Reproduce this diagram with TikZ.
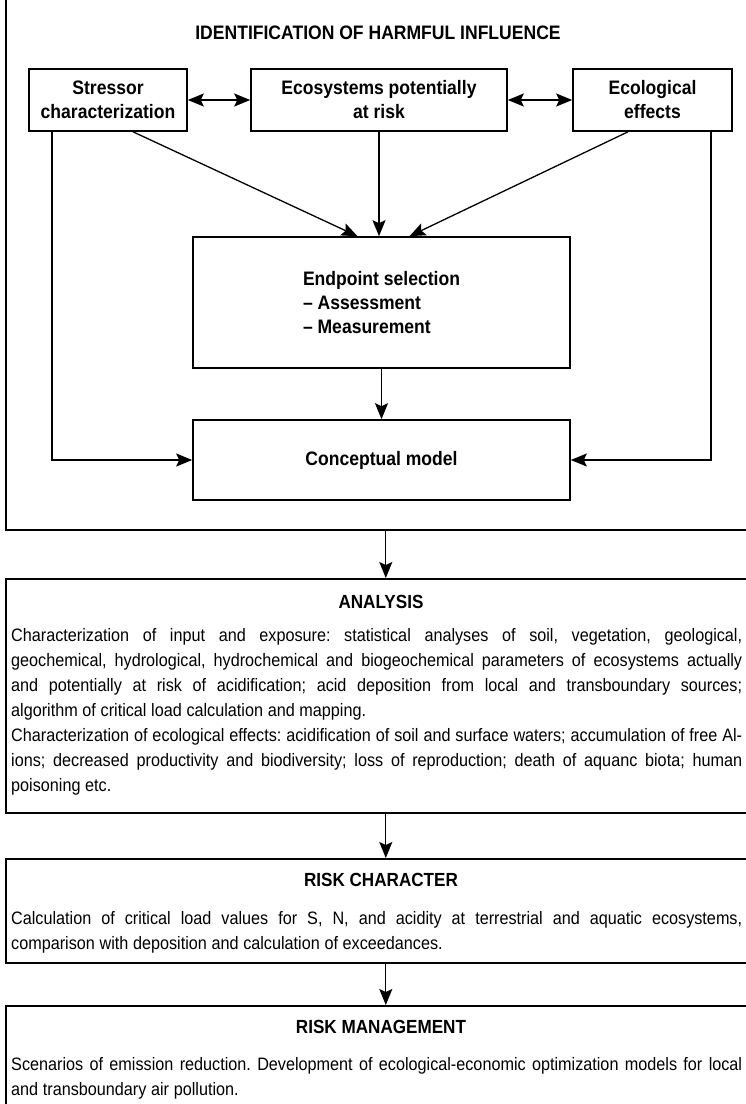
\documentclass[tikz,border=0pt]{standalone}
\usepackage{fontspec}
\setmainfont{Liberation Sans}[FakeStretch=0.9]
\usetikzlibrary{arrows.meta,positioning}

\newcommand\bodysetup{\frenchspacing\spaceskip=0.26em plus 0.8em minus 0.16em\relax\hyphenpenalty=10000\relax}

\tikzset{
  flowbox/.style={draw, line width=1.6pt, align=center, inner sep=0pt,
    font=\fontsize{19.5}{24}\selectfont\bfseries},
  panel/.style={draw, line width=1.6pt, anchor=north west, inner sep=0pt},
  headtxt/.style={inner sep=0pt, font=\fontsize{19}{22}\selectfont\bfseries},
  bodytxt/.style={anchor=north west, inner sep=0pt, text width=731pt, align=justify,
    font=\fontsize{18}{25}\selectfont\bodysetup},
  link/.style={line width=1.3pt, -{Stealth[length=16pt,width=13pt,inset=3pt]}},
  duplink/.style={line width=1.3pt,
    {Stealth[length=16pt,width=13pt,inset=3pt]}-{Stealth[length=16pt,width=13pt,inset=3pt]}},
}

\begin{document}
\begin{tikzpicture}[x=1pt,y=-1pt]
  \clip (0,0) rectangle (746,1104);

  % identification of harmful influence
  \node[panel, minimum width=760pt, minimum height=532pt] (identify) at (5,-3) {};
  \node[headtxt, font=\fontsize{19.5}{22}\selectfont\bfseries] (identhead) at (378,33)
    {IDENTIFICATION OF HARMFUL INFLUENCE};
  \node[flowbox, minimum width=158pt, minimum height=62pt] (stressor) at (108,100)
    {Stressor\\characterization};
  \node[flowbox, minimum width=256pt, minimum height=62pt] (ecosys) at (379,100)
    {Ecosystems potentially\\at risk};
  \node[flowbox, minimum width=159pt, minimum height=62pt] (effects) at (652.5,100)
    {Ecological\\effects};
  \node[flowbox, minimum width=377pt, minimum height=131pt, align=left] (endpoint) at (381.5,302.5)
    {Endpoint selection\\-- Assessment\\-- Measurement};
  \node[flowbox, minimum width=377pt, minimum height=80pt] (concept) at (381.5,460)
    {Conceptual model};

  \draw[duplink] (stressor.east) -- (ecosys.west);
  \draw[duplink] (ecosys.east) -- (effects.west);
  \draw[link] ([xshift=25pt]stressor.south) -- ([xshift=-24pt]endpoint.north);
  \draw[link] (ecosys.south) -- (ecosys.south |- endpoint.north);
  \draw[link] ([xshift=-24.5pt]effects.south) -- ([xshift=28pt]endpoint.north);
  \draw[link] (endpoint) -- (concept);
  \draw[link] ([xshift=-56pt]stressor.south) |- (concept.west);
  \draw[link] ([xshift=58.5pt]effects.south) |- (concept.east);

  % analysis
  \node[panel, minimum width=760pt, minimum height=234pt] (analysis) at (5,578) {};
  \node[headtxt] (analysishead) at (381,602) {ANALYSIS};
  \node[bodytxt] (analysistext) at (11,628)
    {Characterization of input and exposure: statistical analyses of soil, vegetation, geological,\linebreak
     geochemical, hydrological, hydrochemical and biogeochemical parameters of ecosystems actually\linebreak
     and potentially at risk of acidification; acid deposition from local and transboundary sources;\linebreak
     algorithm of critical load calculation and mapping.\newline
     Characterization of ecological effects: acidification of soil and surface waters; accumulation of free Al-\linebreak
     ions; decreased productivity and biodiversity; loss of reproduction; death of aquanc biota; human\linebreak
     poisoning etc.};
  \draw[link] (identify.south) -- (analysis.north);

  % risk character
  \node[panel, minimum width=760pt, minimum height=104pt] (riskchar) at (5,858) {};
  \node[headtxt] (riskcharhead) at (381,880) {RISK CHARACTER};
  \node[bodytxt] (riskchartext) at (11,911)
    {Calculation of critical load values for S, N, and acidity at terrestrial and aquatic ecosystems,\linebreak
     comparison with deposition and calculation of exceedances.};
  \draw[link] (analysis.south) -- (riskchar.north);

  % risk management
  \node[panel, minimum width=760pt, minimum height=130pt] (riskmgmt) at (5,1005) {};
  \node[headtxt] (riskmgmthead) at (381,1027) {RISK MANAGEMENT};
  \node[bodytxt] (riskmgmttext) at (11,1057)
    {Scenarios of emission reduction. Development of ecological-economic optimization models for local\linebreak
     and transboundary air pollution.};
  \draw[link] (riskchar.south) -- (riskmgmt.north);
\end{tikzpicture}
\end{document}
